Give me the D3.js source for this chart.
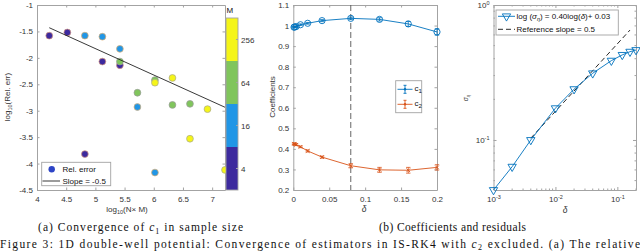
<!DOCTYPE html>
<html>
<head>
<meta charset="utf-8" />
<title>1D double-well potential: convergence of estimators</title>
<script src="https://d3js.org/d3.v7.min.js"></script>
<style>
  body { margin: 0; background: #fff; }
  svg { display: block; font-family: "Liberation Sans", Arial, sans-serif; }
  .cap { font-family: "Liberation Serif", "DejaVu Serif", serif; font-size: 11.5px; fill: #111; }
</style>
</head>
<body>
<svg id="fig" width="640" height="251"></svg>
<script>
// ---------- (a) relative error of c1 vs sample size, one list per M ----------
const mValues = [4, 16, 64, 256];
const mColors = ["#3d2a9e", "#2196e6", "#80c55c", "#f5f518"];
const mEdges = ["#d99a80", "#e0ad70", "#9a9a9a", "#a8a890"];
const logNM_M4 = [4.21, 4.52, 4.82, 5.12, 5.42];
const relErr_M4 = [-1.58, -1.52, -3.82, -2.07, -2.14];
const logNM_M16 = [4.82, 5.12, 5.42, 5.72, 6.02];
const relErr_M16 = [-1.58, -1.60, -1.83, -2.93, -4.17];
const logNM_M64 = [5.42, 5.72, 6.02, 6.32, 6.62];
const relErr_M64 = [-2.07, -2.66, -2.42, -2.89, -2.87];
const logNM_M256 = [6.02, 6.32, 6.62, 6.92, 7.22];
const relErr_M256 = [-2.47, -2.38, -3.53, -2.97, -4.12];
const slopeX = [4.21, 7.22];
const slopeY0 = -1.43;
const slopeVal = -0.5;
const aXTicks = [4, 4.5, 5, 5.5, 6, 6.5, 7];
const aYTicks = [-4.5, -4, -3.5, -3, -2.5, -2, -1.5, -1];

// ---------- (b) coefficients vs delta ----------
const delta = [0.001, 0.002, 0.004, 0.01, 0.02, 0.04, 0.08, 0.12, 0.16, 0.2];
const c1 = [0.992, 0.993, 0.995, 1.004, 1.011, 1.024, 1.035, 1.030, 1.008, 0.969];
const c1Err = [0.003, 0.003, 0.003, 0.004, 0.004, 0.005, 0.006, 0.008, 0.012, 0.016];
const c2 = [0.425, 0.423, 0.420, 0.410, 0.390, 0.360, 0.318, 0.298, 0.296, 0.310];
const c2Err = [0.004, 0.004, 0.004, 0.004, 0.005, 0.005, 0.010, 0.012, 0.014, 0.013];
const deltaStar = 0.08;
const bXTicks = [0, 0.05, 0.1, 0.15, 0.2];
const bYTicks = [0.2, 0.3, 0.4, 0.5, 0.6, 0.7, 0.8, 0.9, 1, 1.1];

// ---------- (c) residual sigma_eta vs delta (log-log) ----------
const sigmaEta = [0.0426, 0.0634, 0.100, 0.172, 0.238, 0.312, 0.387, 0.427, 0.451, 0.464];
const refDelta = [0.004, 0.16];
const refC = 1.63;
const cXTicks = [1e-3, 1e-2, 1e-1];
const cYTicks = [1e-1, 1];

const blue = "#0072bd", red = "#d95319";
const axisColor = "#a3a3a3", textColor = "#333";

const svg = d3.select("#fig");

function styleAxis(sel) {
  sel.attr("font-size", 8).attr("font-family", '"Liberation Sans", Arial, sans-serif');
  sel.selectAll(".domain, .tick line").attr("stroke", axisColor);
  sel.selectAll(".tick text").attr("fill", textColor);
}

// box with inward ticks on all four sides
function frame(g, x, y, xTicks, yTicks, xFmt, yFmt, tick) {
  const [y0, y1] = y.range(), [x0, x1] = x.range();
  g.append("g").attr("transform", `translate(0,${y0})`)
    .call(d3.axisBottom(x).tickValues(xTicks).tickFormat(xFmt).tickSizeInner(-tick).tickSizeOuter(0).tickPadding(6))
    .call(styleAxis);
  g.append("g").attr("transform", `translate(0,${y1})`)
    .call(d3.axisTop(x).tickValues(xTicks).tickFormat("").tickSizeInner(-tick).tickSizeOuter(0))
    .call(styleAxis);
  g.append("g").attr("transform", `translate(${x0},0)`)
    .call(d3.axisLeft(y).tickValues(yTicks).tickFormat(yFmt).tickSizeInner(-tick).tickSizeOuter(0).tickPadding(4))
    .call(styleAxis);
  g.append("g").attr("transform", `translate(${x1},0)`)
    .call(d3.axisRight(y).tickValues(yTicks).tickFormat("").tickSizeInner(-tick).tickSizeOuter(0))
    .call(styleAxis);
}

function errorBars(g, x, y, xs, ys, es, color) {
  const cap = 2.2;
  xs.forEach((d, i) => {
    const px = x(d), lo = y(ys[i] - es[i]), hi = y(ys[i] + es[i]);
    g.append("line").attr("x1", px).attr("x2", px).attr("y1", lo).attr("y2", hi)
      .attr("stroke", color).attr("stroke-width", 0.8);
    [lo, hi].forEach(v => g.append("line").attr("x1", px - cap).attr("x2", px + cap)
      .attr("y1", v).attr("y2", v).attr("stroke", color).attr("stroke-width", 0.8));
  });
}

// ================= panel (a) =================
{
  const g = svg.append("g");
  const x = d3.scaleLinear().domain([4, 7.22]).range([37, 225]);
  const y = d3.scaleLinear().domain([-4.5, -1]).range([190, 5]);
  frame(g, x, y, aXTicks, aYTicks, d => String(d), d => String(d), 2.5);

  const groups = [
    [logNM_M4, relErr_M4], [logNM_M16, relErr_M16],
    [logNM_M64, relErr_M64], [logNM_M256, relErr_M256]
  ];
  const pts = [];
  groups.forEach(([xs, ys], k) => xs.forEach((v, i) => pts.push({ x: v, y: ys[i], k })));
  g.selectAll("circle.pt").data(pts).join("circle").attr("class", "pt")
    .attr("cx", d => x(d.x)).attr("cy", d => y(d.y)).attr("r", 3.4)
    .attr("fill", d => mColors[d.k]).attr("stroke", d => mEdges[d.k]).attr("stroke-width", 0.7);

  const line = d3.line().x(d => x(d)).y(d => y(slopeY0 + slopeVal * (d - slopeX[0])));
  g.append("path").attr("d", line(slopeX)).attr("fill", "none")
    .attr("stroke", "#222").attr("stroke-width", 0.9);

  // legend
  const lg = g.append("g");
  lg.append("rect").attr("x", 41.7).attr("y", 162.3).attr("width", 69).attr("height", 23.4)
    .attr("fill", "#fff").attr("stroke", axisColor).attr("stroke-width", 0.9);
  lg.append("circle").attr("cx", 51.7).attr("cy", 169.3).attr("r", 3.2).attr("fill", "#2d44c6");
  lg.append("text").attr("x", 62.5).attr("y", 172.2).attr("font-size", 8).attr("fill", "#111").text("Rel. error");
  lg.append("line").attr("x1", 42.5).attr("x2", 60).attr("y1", 181).attr("y2", 181)
    .attr("stroke", "#222").attr("stroke-width", 0.9);
  lg.append("text").attr("x", 62.5).attr("y", 184).attr("font-size", 8).attr("fill", "#111").text("Slope = -0.5");

  // axis labels
  const yl = g.append("text").attr("transform", "translate(10,97) rotate(-90)")
    .attr("text-anchor", "middle").attr("font-size", 8).attr("fill", textColor);
  yl.append("tspan").text("log");
  yl.append("tspan").attr("dy", 2).attr("font-size", 5.5).text("10");
  yl.append("tspan").attr("dy", -2).text("(Rel. err)");
  const xl = g.append("text").attr("x", 127).attr("y", 212).attr("text-anchor", "middle")
    .attr("font-size", 8).attr("fill", textColor);
  xl.append("tspan").text("log");
  xl.append("tspan").attr("dy", 2).attr("font-size", 5.5).text("10");
  xl.append("tspan").attr("dy", -2).text("(N\u00d7 M)");

  // discrete colorbar for M
  const cb = d3.scaleBand().domain(mValues.slice().reverse()).range([18, 190]);
  const cg = g.append("g");
  cg.selectAll("rect").data(mValues).join("rect")
    .attr("x", 226).attr("width", 12).attr("y", d => cb(d)).attr("height", cb.bandwidth())
    .attr("fill", (d, i) => mColors[i]);
  cg.append("rect").attr("x", 226).attr("y", 18).attr("width", 12).attr("height", 172)
    .attr("fill", "none").attr("stroke", axisColor).attr("stroke-width", 0.9);
  cg.selectAll("line.cbt").data(mValues).join("line").attr("class", "cbt")
    .attr("x1", 236).attr("x2", 238).attr("y1", d => cb(d) + cb.bandwidth() / 2)
    .attr("y2", d => cb(d) + cb.bandwidth() / 2).attr("stroke", axisColor);
  cg.selectAll("text.cbl").data(mValues).join("text").attr("class", "cbl")
    .attr("x", 241).attr("y", d => cb(d) + cb.bandwidth() / 2 + 3)
    .attr("font-size", 8).attr("fill", textColor).text(d => d);
  cg.append("text").attr("x", 226.5).attr("y", 13).attr("font-size", 8).attr("fill", "#111").text("M");
}

// ================= panel (b) =================
{
  const g = svg.append("g");
  const x = d3.scaleLinear().domain([0, 0.2]).range([293.3, 437]);
  const y = d3.scaleLinear().domain([0.2, 1.1]).range([190, 5]);
  frame(g, x, y, bXTicks, bYTicks, d => String(+d.toFixed(2)), d => String(+d.toFixed(2)), 2.5);

  g.append("line").attr("x1", x(deltaStar)).attr("x2", x(deltaStar)).attr("y1", y(1.1)).attr("y2", y(0.2))
    .attr("stroke", "#555").attr("stroke-width", 0.9).attr("stroke-dasharray", "6,3");

  const line = d3.line().x((d, i) => x(delta[i])).y(d => y(d));
  g.append("path").attr("d", line(c1)).attr("fill", "none").attr("stroke", blue).attr("stroke-width", 0.9);
  errorBars(g, x, y, delta, c1, c1Err, blue);
  g.selectAll("circle.c1").data(c1).join("circle").attr("class", "c1")
    .attr("cx", (d, i) => x(delta[i])).attr("cy", d => y(d)).attr("r", 3.1)
    .attr("fill", "none").attr("stroke", blue).attr("stroke-width", 0.9);

  g.append("path").attr("d", line(c2)).attr("fill", "none").attr("stroke", red).attr("stroke-width", 0.9);
  errorBars(g, x, y, delta, c2, c2Err, red);
  const cross = d3.symbol().type(d3.symbolX).size(10);
  g.selectAll("path.c2").data(c2).join("path").attr("class", "c2")
    .attr("transform", (d, i) => `translate(${x(delta[i])},${y(d)})`)
    .attr("d", cross).attr("fill", "none").attr("stroke", red).attr("stroke-width", 0.9);

  // legend
  const lg = g.append("g");
  lg.append("rect").attr("x", 395.7).attr("y", 80.7).attr("width", 26).attr("height", 32)
    .attr("fill", "#fff").attr("stroke", axisColor).attr("stroke-width", 0.9);
  [[blue, "1", 89.3], [red, "2", 104.3]].forEach(([col, sub, yy]) => {
    lg.append("line").attr("x1", 397.5).attr("x2", 412.5).attr("y1", yy).attr("y2", yy)
      .attr("stroke", col).attr("stroke-width", 0.9);
    lg.append("line").attr("x1", 405).attr("x2", 405).attr("y1", yy - 4).attr("y2", yy + 4)
      .attr("stroke", col).attr("stroke-width", 0.9);
    [yy - 4, yy + 4].forEach(v => lg.append("line").attr("x1", 403.5).attr("x2", 406.5)
      .attr("y1", v).attr("y2", v).attr("stroke", col).attr("stroke-width", 0.9));
    lg.append("circle").attr("cx", 405).attr("cy", yy).attr("r", 1.2).attr("fill", col);
    const t = lg.append("text").attr("x", 414.5).attr("y", yy + 2).attr("font-size", 8).attr("fill", "#111");
    t.append("tspan").text("c");
    t.append("tspan").attr("dy", 2).attr("font-size", 6).text(sub);
  });

  g.append("text").attr("transform", "translate(274.5,97) rotate(-90)").attr("text-anchor", "middle")
    .attr("font-size", 8).attr("fill", textColor).text("Coefficients");
  g.append("text").attr("x", 364).attr("y", 212).attr("text-anchor", "middle")
    .attr("font-size", 8.5).attr("font-style", "italic").attr("fill", textColor).text("\u03b4");
}

// ================= panel (c) =================
{
  const g = svg.append("g");
  const x = d3.scaleLog().domain([0.001, 0.2]).range([493.5, 636]);
  const y = d3.scaleLog().domain([0.0426, 1]).range([190, 5]);

  // minor ticks
  const minorX = [], minorY = [];
  [1e-3, 1e-2, 1e-1].forEach(b => d3.range(2, 10).forEach(m => { if (b * m <= 0.2) minorX.push(b * m); }));
  [1e-2, 1e-1].forEach(b => d3.range(2, 10).forEach(m => { if (b * m >= 0.0426 && b * m < 1) minorY.push(b * m); }));
  const mg = g.append("g");
  minorX.forEach(v => {
    mg.append("line").attr("x1", x(v)).attr("x2", x(v)).attr("y1", 190).attr("y2", 188.5).attr("stroke", axisColor);
    mg.append("line").attr("x1", x(v)).attr("x2", x(v)).attr("y1", 5).attr("y2", 6.5).attr("stroke", axisColor);
  });
  minorY.forEach(v => {
    mg.append("line").attr("x1", 493.5).attr("x2", 495).attr("y1", y(v)).attr("y2", y(v)).attr("stroke", axisColor);
    mg.append("line").attr("x1", 636).attr("x2", 634.5).attr("y1", y(v)).attr("y2", y(v)).attr("stroke", axisColor);
  });

  frame(g, x, y, cXTicks, cYTicks, () => "10", () => "10", 3);
  g.selectAll(".tick text").filter(function () { return this.textContent === "10"; })
    .each(function (d) {
      d3.select(this).append("tspan").attr("dy", "-0.5em").attr("font-size", 5.5)
        .text(Math.round(Math.log10(d)));
    });

  // reference slope
  const ref = d3.line().x(d => x(d)).y(d => y(refC * Math.sqrt(d)));
  g.append("path").attr("d", ref(refDelta)).attr("fill", "none").attr("stroke", "#111")
    .attr("stroke-width", 0.9).attr("stroke-dasharray", "5,3");

  const line = d3.line().x((d, i) => x(delta[i])).y(d => y(d));
  g.append("path").attr("d", line(sigmaEta)).attr("fill", "none").attr("stroke", blue).attr("stroke-width", 0.9);
  const tri = d3.symbol().type(d3.symbolTriangle).size(30);
  g.selectAll("path.tri").data(sigmaEta).join("path").attr("class", "tri")
    .attr("transform", (d, i) => `translate(${x(delta[i])},${y(d)}) rotate(180)`)
    .attr("d", tri).attr("fill", "none").attr("stroke", blue).attr("stroke-width", 0.9);

  // legend
  const lg = g.append("g");
  lg.append("rect").attr("x", 496).attr("y", 10).attr("width", 122.3).attr("height", 25)
    .attr("fill", "#fff").attr("stroke", axisColor).attr("stroke-width", 0.9);
  lg.append("line").attr("x1", 498).attr("x2", 515).attr("y1", 16.3).attr("y2", 16.3)
    .attr("stroke", blue).attr("stroke-width", 0.9);
  lg.append("path").attr("transform", "translate(506.5,16.3) rotate(180)").attr("d", tri)
    .attr("fill", "none").attr("stroke", blue).attr("stroke-width", 0.9);
  const t1 = lg.append("text").attr("x", 516.5).attr("y", 19.2).attr("font-size", 8).attr("fill", "#111");
  t1.append("tspan").text("log (");
  t1.append("tspan").attr("font-style", "italic").text("\u03c3");
  t1.append("tspan").attr("dy", 2).attr("font-size", 5.5).attr("font-style", "italic").text("\u03b7");
  t1.append("tspan").attr("dy", -2).text(") = 0.40log(");
  t1.append("tspan").attr("font-style", "italic").text("\u03b4");
  t1.append("tspan").text(")+ 0.03");
  lg.append("line").attr("x1", 498).attr("x2", 515).attr("y1", 29.3).attr("y2", 29.3)
    .attr("stroke", "#111").attr("stroke-width", 0.9).attr("stroke-dasharray", "5,3");
  lg.append("text").attr("x", 516.5).attr("y", 32.3).attr("font-size", 8).attr("fill", "#111")
    .text("Reference slope = 0.5");

  const yl = g.append("text").attr("transform", "translate(468,98) rotate(-90)").attr("text-anchor", "middle")
    .attr("font-size", 7).attr("fill", textColor);
  yl.append("tspan").attr("font-style", "italic").text("\u03c3");
  yl.append("tspan").attr("dy", 1.5).attr("font-size", 4.5).attr("font-style", "italic").text("\u03b7");
  g.append("text").attr("x", 565).attr("y", 213).attr("text-anchor", "middle")
    .attr("font-size", 8.5).attr("font-style", "italic").attr("fill", textColor).text("\u03b4");
}

// ================= captions =================
function caption(x0, y0, len, parts, subDy) {
  const t = svg.append("text").attr("class", "cap").attr("x", x0).attr("y", y0)
    .attr("textLength", len).attr("lengthAdjust", "spacing");
  parts.forEach(p => {
    const s = t.append("tspan").text(p.t);
    if (p.i) s.attr("font-style", "italic");
    if (p.sub) s.attr("dy", subDy).attr("font-size", "8px");
    if (p.back) s.attr("dy", -subDy);
  });
}
caption(38, 231, 205, [{ t: "(a) Convergence of " }, { t: "c", i: true }, { t: "1", sub: true },
  { t: " in sample size", back: true }], 2.5);
caption(379, 231, 147, [{ t: "(b) Coefficients and residuals" }], 2.5);
caption(0, 248, 640, [{ t: "Figure 3: 1D double-well potential: Convergence of estimators in IS-RK4 with " },
  { t: "c", i: true }, { t: "2", sub: true }, { t: " excluded.  (a) The relative", back: true }], 1.8);
</script>
</body>
</html>
